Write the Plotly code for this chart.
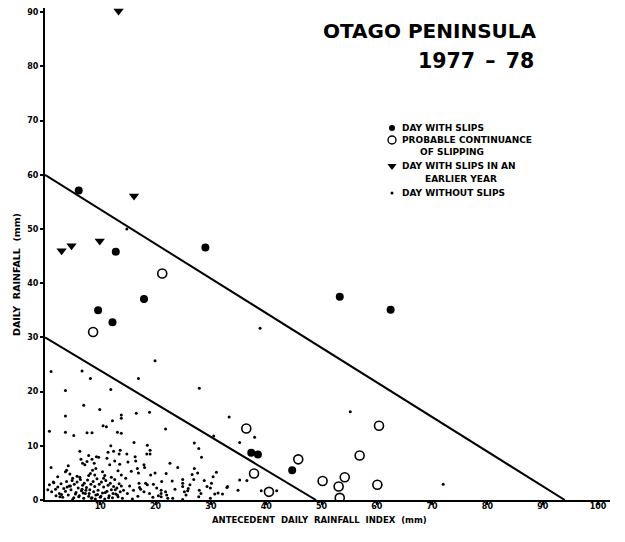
import plotly.graph_objects as go

# --- Data ---
slips_x = [6.1, 12.8, 9.6, 12.2, 17.9, 29.0, 53.3, 62.5, 37.3, 38.5, 44.7]
slips_y = [57.1, 45.8, 35.0, 32.8, 37.1, 46.6, 37.5, 35.1, 8.7, 8.4, 5.5]

probable_x = [8.7, 21.2, 36.4, 37.8, 45.8, 40.5, 60.4, 56.9, 50.2, 54.2, 53.1, 60.1, 53.3]
probable_y = [31.0, 41.8, 13.2, 4.9, 7.5, 1.5, 13.7, 8.2, 3.5, 4.2, 2.5, 2.8, 0.4]

earlier_x = [3.0, 4.8, 9.9, 16.1, 13.3]
earlier_y = [46.0, 46.9, 47.8, 56.1, 90.2]

noslip_x = [
    # upper scattered
    1.1, 6.7, 8.2, 3.7, 11.9, 7.0, 9.9, 3.7, 13.8, 13.8, 12.2, 10.5, 11.1, 0.8, 3.7,
    7.6, 8.5, 13.1, 13.8, 5.2, 11.9, 6.3, 7.9, 19.9, 16.9, 27.9, 16.5, 18.9, 21.8,
    33.3, 37.9, 35.2, 38.9, 14.8, 55.2, 72.0,
    # mid band
    1.1, 3.7, 4.5, 3.9, 6.5, 6.8, 7.2, 7.6, 5.8, 6.3, 8.5, 8.9, 9.2, 8.6, 9.3, 9.0,
    10.4, 10.8, 10.6, 11.4, 11.7, 12.4, 12.6, 13.4, 13.5, 13.2, 12.0, 7.9, 8.2, 5.0,
    2.3, 13.6, 13.8, 9.7, 11.2, 4.2,
    # low dense band
    0.8, 1.2, 1.6, 2.0, 2.3, 2.6, 2.9, 3.2, 3.4, 3.7, 3.9, 4.2, 4.4, 4.7, 4.9, 5.2,
    5.3, 5.6, 5.8, 6.0, 6.2, 6.4, 6.6, 6.8, 7.0, 7.1, 7.3, 7.5, 7.7, 7.9, 8.1, 8.3,
    8.5, 8.7, 8.8, 9.0, 9.2, 9.4, 9.6, 9.8, 10.0, 10.2, 10.4, 10.6, 10.8, 11.0, 11.2,
    11.4, 11.6, 11.8, 12.0, 12.2, 12.4, 12.6, 12.8, 13.0, 13.2, 13.4, 13.6, 13.8,
    14.0, 14.2, 1.9, 3.0, 5.5, 6.9, 8.0, 9.5, 10.9, 12.3, 2.7, 4.6, 6.1, 7.4, 10.1,
    11.5, 13.1, 0.5, 1.5, 4.0, 5.0, 6.7, 8.4, 9.1, 12.7,
    # middle x range
    16.7, 16.9, 17.9, 18.0, 19.1, 19.9, 21.9, 24.0, 27.0, 26.6, 27.6, 26.9, 24.9, 24.9,
    24.9, 23.0, 21.1, 30.4, 30.1, 17.0, 17.1, 17.3, 18.2, 18.5, 19.6, 17.9, 18.9, 21.0,
    21.0, 21.0, 21.8, 22.0, 22.2, 23.1, 24.9, 25.2, 25.8, 25.5, 27.9, 28.2, 27.8, 29.3,
    29.9, 30.7, 31.3, 29.9, 15.8, 16.1, 16.3, 16.4, 14.8, 15.0, 14.6, 15.3, 14.9, 16.0,
    19.5, 20.2, 23.5, 26.2, 28.8, 31.0, 32.1, 33.0, 34.9, 35.2, 36.5, 32.9, 18.5, 18.4,
    19.0, 19.0, 27.0, 27.8, 28.3, 30.5, 39.1, 41.9, 15.6, 22.6, 20.5, 16.8, 25.9,
]
noslip_y = [
    23.7, 23.8, 22.4, 20.2, 20.4, 17.5, 16.7, 15.5, 15.7, 15.1, 14.6, 13.7, 13.5, 12.7, 12.5,
    12.4, 12.4, 12.5, 12.3, 11.9, 10.0, 9.0, 8.2, 25.7, 22.4, 20.6, 16.0, 16.2, 13.1,
    15.3, 11.6, 10.6, 31.7, 50.0, 16.3, 2.9,
    6.0, 5.2, 4.8, 5.5, 7.5, 6.8, 6.5, 7.1, 4.4, 4.2, 7.5, 6.8, 5.8, 5.5, 8.0, 4.6,
    5.2, 4.5, 4.0, 8.8, 6.5, 9.0, 7.2, 8.5, 6.6, 5.4, 4.2, 4.5, 4.9, 4.0,
    4.3, 9.2, 4.6, 7.9, 7.7, 6.3,
    2.8, 1.5, 3.2, 0.8, 2.4, 1.2, 3.0, 0.5, 2.1, 1.6, 3.4, 0.9, 2.6, 1.9, 3.6, 0.4,
    2.9, 1.4, 3.3, 2.2, 0.8, 3.8, 1.7, 2.7, 0.3, 3.1, 1.2, 2.3, 3.7, 0.7, 1.9, 2.9,
    0.4, 3.4, 1.5, 2.5, 0.9, 3.9, 1.8, 2.9, 0.5, 3.3, 1.3, 2.4, 0.2, 3.6, 1.6,
    2.7, 0.8, 3.1, 1.9, 0.4, 2.5, 3.8, 1.1, 2.2, 0.6, 3.0, 1.5, 2.6,
    0.3, 1.8, 2.0, 1.0, 1.1, 1.3, 1.2, 1.0, 1.4, 1.2, 0.6, 2.6, 0.6, 1.8, 0.7,
    0.4, 0.9, 1.9, 3.3, 2.4, 0.1, 2.0, 0.3, 0.2, 1.9,
    5.8, 5.0, 6.5, 6.0, 4.6, 5.0, 4.9, 6.0, 5.8, 4.7, 5.0, 3.8, 3.8, 3.1,
    2.5, 3.5, 3.4, 4.3, 3.1, 3.1, 2.3, 2.0, 3.1, 2.8, 2.9, 1.5, 1.2, 1.8,
    1.2, 0.6, 1.5, 0.9, 0.3, 0.3, 0.1, 1.5, 1.7, 0.9, 1.8, 1.2, 0.6, 2.5,
    2.2, 1.1, 1.3, 0.3, 0.2, 10.6, 8.0, 7.2, 8.5, 7.0, 4.0, 2.6, 1.2, 1.8,
    0.5, 2.2, 2.0, 2.8, 3.6, 5.1, 1.1, 2.5, 1.8, 3.7, 3.6, 2.3, 10.1, 8.5,
    9.2, 8.5, 10.5, 9.5, 7.9, 11.8, 1.7, 1.7, 5.3, 6.8, 0.8, 0.7, 2.1,
]

upper_line_x = [0, 94]
upper_line_y = [60, 0]
lower_line_x = [0, 49]
lower_line_y = [30, 0]

x_ticks = [10, 20, 30, 40, 50, 60, 70, 80, 90, 100]
y_ticks = [0, 10, 20, 30, 40, 50, 60, 70, 80, 90]

legend_labels = ["DAY WITH SLIPS",
                 "PROBABLE CONTINUANCE", "OF SLIPPING",
                 "DAY WITH SLIPS IN AN", "EARLIER YEAR",
                 "DAY WITHOUT SLIPS"]

# --- Layout geometry (pixels). The page body adds an 8px offset. ---
OFF = 8
W, H = 625 - OFF, 542 - OFF
ML, MR, MT, MB = 45 - OFF, 15, 0, 42
PW, PH = W - ML - MR, H - MT - MB
Y_SCALE = 5.42  # px per mm


def px_to_paper(px, py):
    """Window pixel position -> paper coordinates."""
    fx, fy = px - OFF, py - OFF
    return (fx - ML) / PW, (H - MB - fy) / PH


FONT = "DejaVu Sans, Verdana, sans-serif"

fig = go.Figure()

fig.add_trace(go.Scatter(x=upper_line_x, y=upper_line_y, mode="lines",
                         line=dict(color="black", width=2), hoverinfo="skip"))
fig.add_trace(go.Scatter(x=lower_line_x, y=lower_line_y, mode="lines",
                         line=dict(color="black", width=2), hoverinfo="skip"))

fig.add_trace(go.Scatter(x=slips_x, y=slips_y, mode="markers", name="DAY WITH SLIPS",
                         marker=dict(symbol="circle", size=8, color="black")))
fig.add_trace(go.Scatter(x=probable_x, y=probable_y, mode="markers",
                         name="PROBABLE CONTINUANCE OF SLIPPING",
                         marker=dict(symbol="circle-open", size=9, color="black",
                                     line=dict(width=1.6, color="black"))))
fig.add_trace(go.Scatter(x=earlier_x, y=earlier_y, mode="markers", cliponaxis=False,
                         name="DAY WITH SLIPS IN AN EARLIER YEAR",
                         marker=dict(symbol="triangle-down", size=9, color="black")))
fig.add_trace(go.Scatter(x=noslip_x, y=noslip_y, mode="markers", name="DAY WITHOUT SLIPS",
                         marker=dict(symbol="circle", size=3, color="black")))

# --- Legend keys drawn on an overlay axis spanning [0,1] of the plot area ---
key_px = 392
key_rows = [128, 140, 166, 193]
key_styles = [dict(symbol="circle", size=6, color="black"),
              dict(symbol="circle-open", size=8, color="black", line=dict(width=1.4, color="black")),
              dict(symbol="triangle-down", size=8, color="black"),
              dict(symbol="circle", size=3, color="black")]
for row, st in zip(key_rows, key_styles):
    kx, ky = px_to_paper(key_px, row)
    fig.add_trace(go.Scatter(x=[kx], y=[ky], mode="markers", marker=st, cliponaxis=False,
                             xaxis="x2", yaxis="y2", hoverinfo="skip"))

legend_pos = [(400, 128), (400, 140), (418, 152), (400, 166), (423, 179), (400, 193)]
annotations = []
for text, (tx, ty) in zip(legend_labels, legend_pos):
    ax_, ay_ = px_to_paper(tx, ty)
    annotations.append(dict(text=text, xref="paper", yref="paper", x=ax_, y=ay_,
                            xanchor="left", yanchor="middle", showarrow=False,
                            font=dict(size=9, family=FONT, weight="bold")))

tx, ty = px_to_paper(430, 31)
annotations.append(dict(text="OTAGO PENINSULA", xref="paper", yref="paper", x=tx, y=ty,
                        xanchor="center", yanchor="middle", showarrow=False,
                        font=dict(size=20, family=FONT, weight="bold")))
tx, ty = px_to_paper(476, 61)
annotations.append(dict(text="1977\u2002\u2013\u200278", xref="paper", yref="paper", x=tx, y=ty,
                        xanchor="center", yanchor="middle", showarrow=False,
                        font=dict(size=20.5, family=FONT, weight="bold")))
tx, ty = px_to_paper(319, 520)
annotations.append(dict(text="ANTECEDENT\u00a0 DAILY\u00a0 RAINFALL\u00a0 INDEX\u00a0 (mm)",
                        xref="paper", yref="paper", x=tx, y=ty,
                        xanchor="center", yanchor="middle", showarrow=False,
                        font=dict(size=8.5, family=FONT, weight="bold")))
tx, ty = px_to_paper(16, 275)
annotations.append(dict(text="DAILY\u00a0 RAINFALL\u00a0 (mm)", xref="paper", yref="paper",
                        x=tx, y=ty, xanchor="center", yanchor="middle", textangle=-90,
                        showarrow=False, font=dict(size=9.5, family=FONT, weight="bold")))

fig.update_layout(
    width=W, height=H,
    margin=dict(l=ML, r=MR, t=MT, b=MB, autoexpand=False),
    paper_bgcolor="white", plot_bgcolor="white",
    font=dict(family=FONT, color="black"),
    showlegend=False,
    xaxis=dict(range=[0, PW / 5.53], tickvals=x_ticks, ticks="outside", ticklen=3,
               tickwidth=1.5, tickcolor="black", showline=True, linecolor="black",
               linewidth=2, showgrid=False, zeroline=False, automargin=False,
               ticklabelstandoff=-6,
               tickfont=dict(size=8, family=FONT, weight="bold")),
    yaxis=dict(range=[0, PH / Y_SCALE], tickvals=y_ticks, ticks="outside", ticklen=3,
               tickwidth=1.5, tickcolor="black", showline=True, linecolor="black",
               linewidth=2, showgrid=False, zeroline=False, automargin=False,
               tickfont=dict(size=8, family=FONT, weight="bold")),
    xaxis2=dict(range=[0, 1], overlaying="x", visible=False, automargin=False),
    yaxis2=dict(range=[0, 1], overlaying="y", visible=False, automargin=False),
    annotations=annotations,
)

fig.write_html("out.html")
